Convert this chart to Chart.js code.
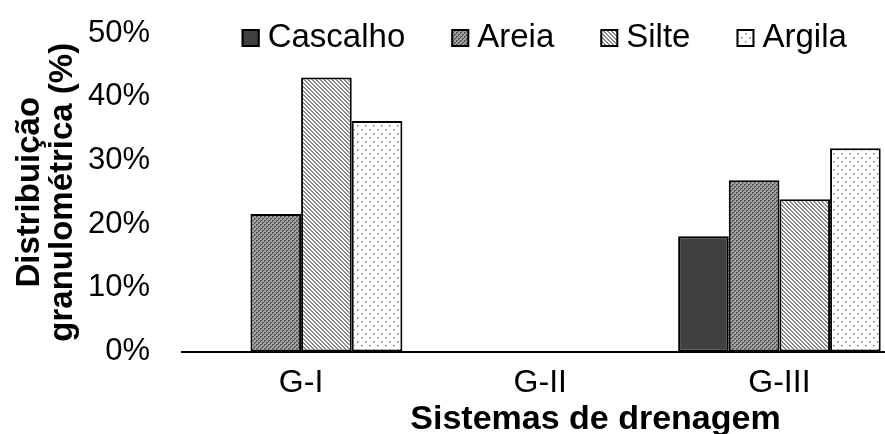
<!DOCTYPE html>
<html>
<head>
<meta charset="utf-8">
<script src="https://cdn.jsdelivr.net/npm/chart.js@4/dist/chart.umd.min.js"></script>
<style>
  html, body { margin: 0; padding: 0; background: #fff; overflow: hidden; }
  #wrap { position: relative; width: 885px; height: 434px; overflow: hidden; background: #fff; }
  #c { position: absolute; left: 0; top: 0; }
</style>
</head>
<body>
<div id="wrap"><canvas id="c" width="899" height="444"></canvas></div>
<script>
// Drainage systems and grain-size fractions (%)
const categories = ['G-I', 'G-II', 'G-III'];
const seriesNames = ['Cascalho', 'Areia', 'Silte', 'Argila'];
const cascalho = [0, 0, 18.1];
const areia    = [21.6, 0, 26.9];
const silte    = [43.0, 0, 23.9];
const argila   = [36.2, 0, 31.9];
const yTicks   = [0, 10, 20, 30, 40, 50];
const xTitle   = 'Sistemas de drenagem';
const yTitle   = ['Distribuição', 'granulométrica (%)'];

const FONT = "'Liberation Sans', Arial, Helvetica, sans-serif";
Chart.defaults.font.family = FONT;
Chart.defaults.color = '#000';

// Small tiled fills for the hatched bars
function tile(size, bg, fg, pixels) {
  const c = document.createElement('canvas');
  c.width = c.height = size;
  const g = c.getContext('2d');
  g.fillStyle = bg;
  g.fillRect(0, 0, size, size);
  g.fillStyle = fg;
  pixels.forEach(([x, y]) => g.fillRect(x, y, 1, 1));
  return g.createPattern(c, 'repeat');
}
const fillCascalho = '#404040';
const fillAreia = tile(4, '#a2a2a2', '#555555', [[0,0],[0,1],[2,2],[2,3],[1,0],[3,2]]);
const fillSilte = tile(4, '#ffffff', '#8a8a8a', [[0,0],[1,1],[2,2],[3,3],[1,0],[2,1],[3,2],[0,3]]);
const fillArgila = tile(8, '#ffffff', '#9c9c9c', [[1,1],[2,1],[1,2],[5,5],[6,5],[5,6]]);

const seriesValues = [cascalho, areia, silte, argila];
const seriesFills = [fillCascalho, fillAreia, fillSilte, fillArgila];

const datasets = seriesNames.map((name, i) => ({
  label: name,
  data: seriesValues[i],
  backgroundColor: seriesFills[i],
  borderColor: '#000',
  borderWidth: 2,
  borderSkipped: false
}));

// Horizontal key drawn across the top of the plot, overlapping it
const seriesKey = {
  id: 'seriesKey',
  afterDraw(chart) {
    const ctx = chart.ctx;
    const { left, right } = chart.chartArea;
    const box = 18, gapText = 8, gapItem = 46, cy = 38;
    ctx.save();
    ctx.font = '33px ' + FONT;
    const items = chart.data.datasets.map(ds => ({ ds, w: ctx.measureText(ds.label).width }));
    const total = items.reduce((s, it) => s + box + gapText + it.w, 0) + gapItem * (items.length - 1);
    let x = (left + right) / 2 - total / 2 + 4;
    items.forEach(it => {
      ctx.fillStyle = it.ds.backgroundColor;
      ctx.fillRect(x, cy - box / 2, box, box);
      ctx.lineWidth = 2;
      ctx.strokeStyle = '#000';
      ctx.strokeRect(x + 1, cy - box / 2 + 1, box - 2, box - 2);
      ctx.fillStyle = '#000';
      ctx.textBaseline = 'middle';
      ctx.textAlign = 'left';
      ctx.fillText(it.ds.label, x + box + gapText, cy);
      x += box + gapText + it.w + gapItem;
    });
    ctx.restore();
  }
};

// Category axis title, set a little right of the axis centre
const xAxisTitle = {
  id: 'xAxisTitle',
  afterDraw(chart) {
    const ctx = chart.ctx;
    const { left, right } = chart.chartArea;
    ctx.save();
    ctx.font = 'bold 34px ' + FONT;
    ctx.fillStyle = '#000';
    ctx.textAlign = 'center';
    ctx.textBaseline = 'alphabetic';
    ctx.fillText(xTitle, left + (right - left) * 0.577, 429);
    ctx.restore();
  }
};

new Chart(document.getElementById('c'), {
  type: 'bar',
  data: { labels: categories, datasets },
  plugins: [seriesKey, xAxisTitle],
  options: {
    responsive: false,
    animation: false,
    layout: { padding: { top: 33, left: 0, right: 0, bottom: 0 } },
    datasets: { bar: { categoryPercentage: 0.847, barPercentage: 1 } },
    plugins: {
      tooltip: { enabled: false },
      legend: { display: false }
    },
    scales: {
      x: {
        afterFit: s => { s.height = 92.5; },
        grid: { display: false, drawTicks: false },
        border: { display: true, color: '#000', width: 2 },
        ticks: { padding: 15.5, color: '#000', font: { size: 32, lineHeight: 1 } }
      },
      y: {
        min: 0,
        max: 50,
        afterBuildTicks: s => { s.ticks = yTicks.map(v => ({ value: v })); },
        afterFit: s => { s.width = 181.5; s.paddingTop = 0; s.paddingBottom = 0; },
        grid: { display: false, drawTicks: false },
        border: { display: false },
        ticks: { padding: 31.5, color: '#000', font: { size: 31, lineHeight: 1 }, callback: v => v + '%' },
        title: {
          display: true,
          text: yTitle,
          color: '#000',
          font: { size: 33, weight: 'bold', lineHeight: 1 },
          padding: { top: 13.5, bottom: 0 }
        }
      }
    }
  }
});
</script>
</body>
</html>
